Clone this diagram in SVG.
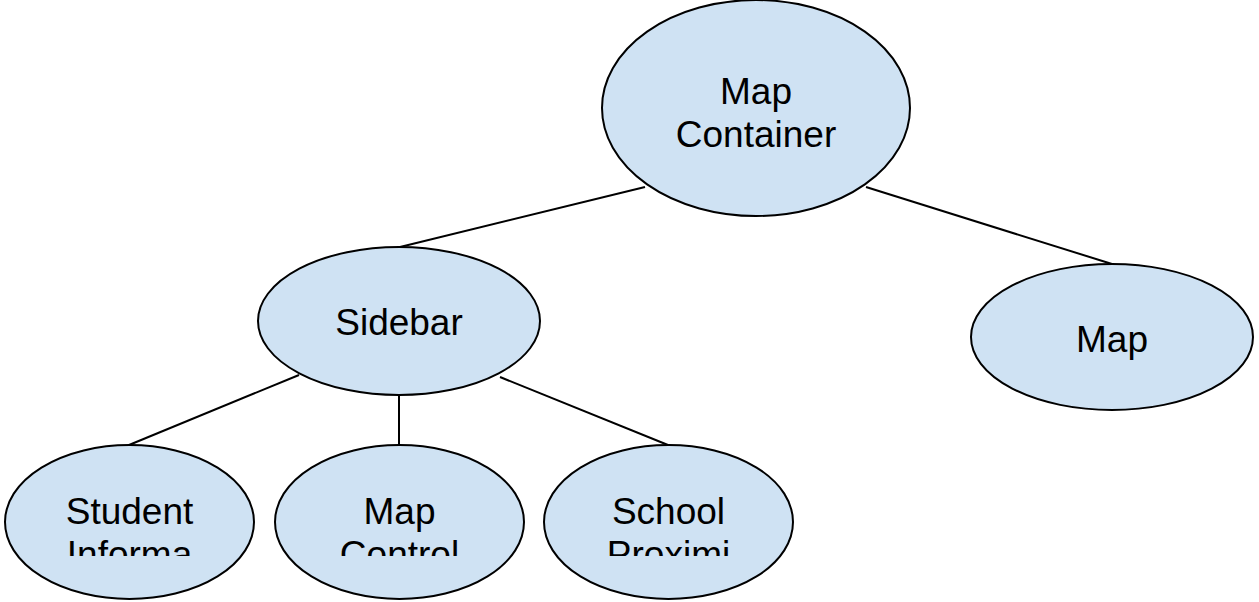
<svg xmlns="http://www.w3.org/2000/svg" width="1259" height="602" viewBox="0 0 1259 602">
<style>
.node{fill:#cfe2f3;stroke:#000;stroke-width:2}
.lbl{font-family:"Liberation Sans",Arial,sans-serif;font-size:37px;fill:#000;text-anchor:middle}
.conn line{stroke:#000;stroke-width:2}
</style>
<defs>
<clipPath id="clipBottom"><rect x="0" y="440" width="1259" height="116"/></clipPath>
</defs>
<rect width="1259" height="602" fill="#fff"/>
<g id="connectors" class="conn">
<line x1="645" y1="187" x2="400" y2="247"/>
<line x1="866" y1="187" x2="1112" y2="264"/>
<line x1="299" y1="375" x2="129" y2="445"/>
<line x1="399" y1="395" x2="399" y2="445"/>
<line x1="500" y1="377" x2="668" y2="445"/>
</g>
<g id="map-container">
<ellipse class="node" cx="756" cy="108" rx="154" ry="108"/>
<text class="lbl" x="756" y="104">Map</text>
<text class="lbl" x="756" y="147">Container</text>
</g>
<g id="sidebar">
<ellipse class="node" cx="399" cy="321" rx="141" ry="74"/>
<text class="lbl" x="399" y="335">Sidebar</text>
</g>
<g id="map">
<ellipse class="node" cx="1112" cy="337" rx="141" ry="73"/>
<text class="lbl" x="1112" y="352">Map</text>
</g>
<g id="student-information">
<ellipse class="node" cx="129.5" cy="522" rx="124.5" ry="77"/>
<g clip-path="url(#clipBottom)">
<text class="lbl" x="129.5" y="524">Student</text>
<text class="lbl" x="129.5" y="567">Informa</text>
</g>
</g>
<g id="map-control">
<ellipse class="node" cx="399.5" cy="522" rx="124.5" ry="77"/>
<g clip-path="url(#clipBottom)">
<text class="lbl" x="399.5" y="524">Map</text>
<text class="lbl" x="399.5" y="567">Control</text>
</g>
</g>
<g id="school-proximity">
<ellipse class="node" cx="668.5" cy="522" rx="124.5" ry="77"/>
<g clip-path="url(#clipBottom)">
<text class="lbl" x="668.5" y="524">School</text>
<text class="lbl" x="668.5" y="567">Proximi</text>
</g>
</g>
</svg>
